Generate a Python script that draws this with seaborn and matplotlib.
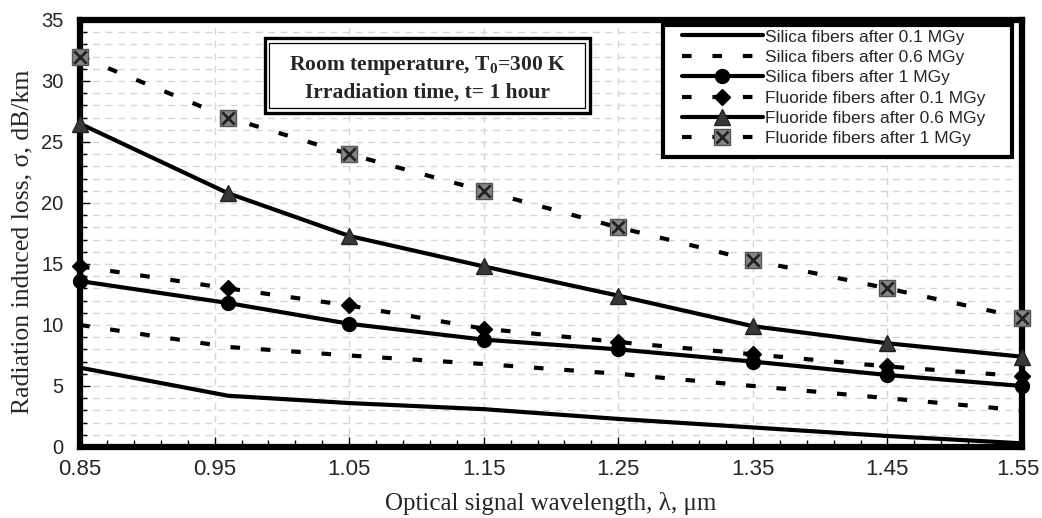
import numpy as np
import pandas as pd
import seaborn as sns
import matplotlib
matplotlib.use("Agg")
import matplotlib.pyplot as plt
import matplotlib.transforms as mtransforms
from matplotlib.lines import Line2D
from matplotlib.legend_handler import HandlerTuple
from matplotlib.patches import Rectangle
from matplotlib.ticker import FixedLocator, MultipleLocator

# ---------------- data ----------------
wavelength = [0.85, 0.96, 1.05, 1.15, 1.25, 1.35, 1.45, 1.55]
silica_01 = [6.5, 4.2, 3.6, 3.1, 2.3, 1.6, 0.9, 0.3]
silica_06 = [10.0, 8.2, 7.5, 6.8, 6.0, 5.0, 4.0, 3.0]
silica_1 = [13.6, 11.8, 10.1, 8.8, 8.0, 7.0, 5.9, 5.0]
fluoride_01 = [14.8, 13.0, 11.6, 9.7, 8.6, 7.6, 6.6, 5.8]
fluoride_06 = [26.5, 20.8, 17.3, 14.8, 12.4, 9.9, 8.5, 7.4]
fluoride_1 = [32.0, 27.0, 24.0, 21.0, 18.0, 15.3, 13.0, 10.6]

series_labels = ["Silica fibers after 0.1 MGy", "Silica fibers after 0.6 MGy",
                 "Silica fibers after 1 MGy", "Fluoride fibers after 0.1 MGy",
                 "Fluoride fibers after 0.6 MGy", "Fluoride fibers after 1 MGy"]
xtick_values = [0.85, 0.95, 1.05, 1.15, 1.25, 1.35, 1.45, 1.55]
xtick_labels = ["0.85", "0.95", "1.05", "1.15", "1.25", "1.35", "1.45", "1.55"]
ytick_values = [0, 5, 10, 15, 20, 25, 30, 35]
ytick_labels = ["0", "5", "10", "15", "20", "25", "30", "35"]

xlabel = "Optical signal wavelength, λ, μm"
ylabel = "Radiation induced loss, σ, dB/km"
note_line1 = r"Room temperature, T$_{\mathbf{0}}$=300 K"
note_line2 = "Irradiation time, t= 1 hour"

# ---------------- style ----------------
sns.set_theme(style="white")
plt.rcParams['font.family'] = ['Liberation Sans', 'DejaVu Sans']
plt.rcParams['mathtext.fontset'] = 'custom'
plt.rcParams['mathtext.rm'] = 'Liberation Serif'
plt.rcParams['mathtext.bf'] = 'Liberation Serif:bold'

fig = plt.figure(figsize=(10.42, 5.18), dpi=100)
ax = fig.add_axes([0.0768, 0.1371, 0.904, 0.8243])

LW = 3.0
DASH = (0, (2.3, 5.0))

styles = [
    dict(y=silica_01, ls="-", marker=None),
    dict(y=silica_06, ls=DASH, marker=None),
    dict(y=silica_1, ls="-", marker="o", ms=10, mfc="black", mec="black"),
    dict(y=fluoride_01, ls=DASH, marker="D", ms=8, mfc="black", mec="black"),
    dict(y=fluoride_06, ls="-", marker="^", ms=11, mfc="#383838", mec="#222222"),
    dict(y=fluoride_1, ls=DASH, marker="s", ms=11, mfc="#858585", mec="#555555"),
]

handles = []
for lab, st in zip(series_labels, styles):
    kw = dict(color="black", linewidth=LW, linestyle=st["ls"], zorder=4, clip_on=False)
    if st["marker"]:
        kw.update(marker=st["marker"], markersize=st["ms"], markerfacecolor=st["mfc"],
                  markeredgecolor=st["mec"], markeredgewidth=1)
    sns.lineplot(x=wavelength, y=st["y"], ax=ax, label=lab, legend=False, **kw)
    handles.append(ax.lines[-1])

# dark cross on top of the grey squares (Excel "x" marker)
sns.scatterplot(x=wavelength, y=fluoride_1, ax=ax, marker="x", s=80, color="#222222",
                linewidth=2.0, zorder=5, clip_on=False, legend=False)
cross_handle = Line2D([], [], linestyle="none", marker="x", markersize=8,
                      markeredgecolor="#222222", markeredgewidth=2.0)
handles[-1] = (handles[-1], cross_handle)

# ---------------- axes ----------------
ax.set_xlim(0.85, 1.55)
ax.set_ylim(0, 35)
ax.set_xticks(xtick_values)
ax.set_xticklabels(xtick_labels, fontsize=16)
ax.set_yticks(ytick_values)
ax.set_yticklabels(ytick_labels, fontsize=14.5)
ax.xaxis.set_minor_locator(FixedLocator(np.arange(0.85, 1.5501, 0.02)))
ax.yaxis.set_minor_locator(MultipleLocator(1))
ax.tick_params(axis="both", which="both", direction="in", color="black",
               bottom=True, left=True, top=False, right=False)
ax.tick_params(axis="x", which="major", length=7, width=1, pad=9)
ax.tick_params(axis="x", which="minor", length=5, width=1)
ax.tick_params(axis="y", which="major", length=7, width=1, pad=12)
ax.tick_params(axis="y", which="minor", length=5, width=1)

# keep the last x label inside the canvas (as in the reference)
last = ax.xaxis.get_major_ticks()[-1].label1
last.set_transform(last.get_transform() +
                   mtransforms.ScaledTranslation(-3 / 72, 0, fig.dpi_scale_trans))

ax.grid(False)
ax.grid(True, which="major", axis="x", color="#d6d6d6", linestyle=(0, (5, 4)), linewidth=1)
ax.grid(True, which="both", axis="y", color="#d6d6d6", linestyle=(0, (5, 4)), linewidth=1)
ax.set_axisbelow(True)

for sp in ax.spines.values():
    sp.set_visible(True)
    sp.set_color("black")
    sp.set_linewidth(4.5)

ax.set_xlabel(xlabel, fontsize=18, family=["Liberation Serif", "DejaVu Serif"], labelpad=8)
ax.set_ylabel(ylabel, fontsize=18.5, family=["Liberation Serif", "DejaVu Serif"])
ax.yaxis.set_label_coords(-0.049, 0.48)

# ---------------- legend (own frame drawn as a rectangle) ----------------
lx0, lx1, ly0, ly1 = 0.619, 0.9894, 0.679, 0.988
ax.add_patch(Rectangle((lx0, ly0), lx1 - lx0, ly1 - ly0, transform=ax.transAxes,
                       facecolor="white", edgecolor="black", linewidth=3, zorder=9))
leg = ax.legend(handles, series_labels, loc="upper left", bbox_to_anchor=(0.639, 0.978),
                borderaxespad=0, borderpad=0, fontsize=12.5, frameon=False,
                handlelength=4.66, handletextpad=0.12, labelspacing=0.3, numpoints=1,
                handler_map={tuple: HandlerTuple(ndivide=1, pad=0)})
leg.set_zorder(10)

# ---------------- annotation box ----------------
bx0, bx1, by0, by1 = 0.196, 0.541, 0.782, 0.958
ax.add_patch(Rectangle((bx0, by0), bx1 - bx0, by1 - by0, transform=ax.transAxes,
                       facecolor="white", edgecolor="black", linewidth=2.4, zorder=8))
ax.add_patch(Rectangle((bx0 + 0.005, by0 + 0.011), bx1 - bx0 - 0.010, by1 - by0 - 0.022,
                       transform=ax.transAxes, facecolor="none", edgecolor="black",
                       linewidth=0.9, zorder=8))
cx = (bx0 + bx1) / 2
ax.text(cx, 0.893, note_line1, transform=ax.transAxes, ha="center", va="center",
        fontsize=15.5, fontweight="bold", family=["Liberation Serif", "DejaVu Serif"], zorder=9)
ax.text(cx, 0.830, note_line2, transform=ax.transAxes, ha="center", va="center",
        fontsize=15.5, fontweight="bold", family=["Liberation Serif", "DejaVu Serif"], zorder=9)

fig.savefig("out.png", dpi=100)
